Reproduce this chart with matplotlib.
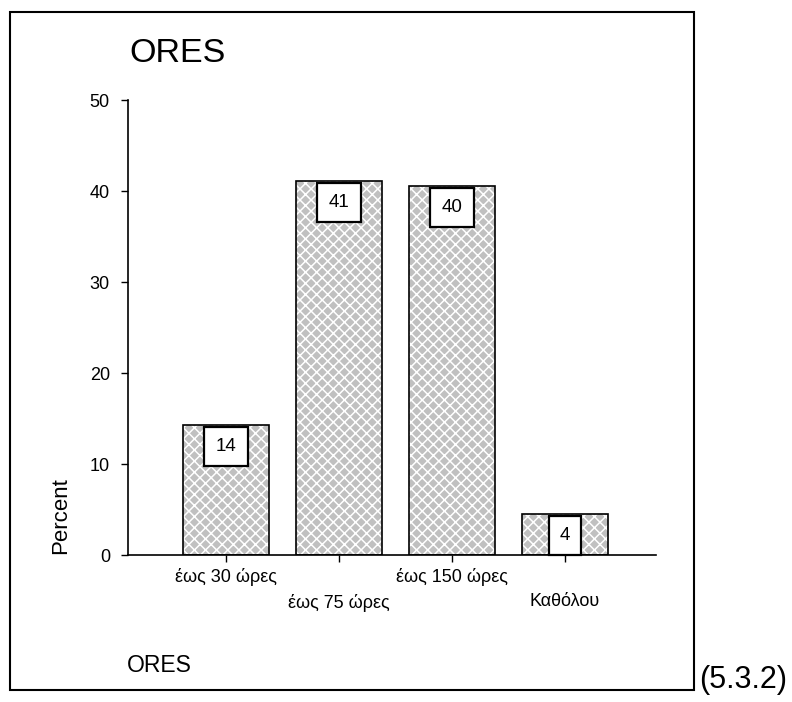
import matplotlib.pyplot as plt
import matplotlib.patches as mpatches
import numpy as np

plt.rcParams['font.family'] = ['Liberation Sans', 'DejaVu Sans']
plt.rcParams['hatch.linewidth'] = 1.1

categories = ['έως 30 ώρες', 'έως 75 ώρες', 'έως 150 ώρες', 'Καθόλου']
percent = [14.3, 41.1, 40.6, 4.5]
value_labels = ['14', '41', '40', '4']

fig = plt.figure(figsize=(7.92, 7.02), dpi=100)
ax = fig.add_axes([0.1616, 0.2094, 0.8283 - 0.1616, 0.8575 - 0.2094])

x = np.arange(len(categories))
# gray fill with white crosshatch, then black outline on top
ax.bar(x, percent, width=0.76, color='#c0c0c0', edgecolor='white', hatch='xxx', linewidth=0)
ax.bar(x, percent, width=0.76, facecolor='none', edgecolor='black', linewidth=1.2)

for xi, v, lab in zip(x, percent, value_labels):
    ax.annotate(lab, (xi, v), xytext=(0, -9.5), textcoords='offset points',
                ha='center', va='top', fontsize=13.5,
                bbox=dict(boxstyle='square,pad=0.6', facecolor='white', edgecolor='black', linewidth=1.6))

ax.set_xlim(-0.867, 3.805)
ax.set_ylim(0, 50)
ax.set_yticks([0, 10, 20, 30, 40, 50])
ax.set_xticks(x)
ax.set_xticklabels([c if i % 2 == 0 else '\n' + c for i, c in enumerate(categories)], fontsize=13)
for t in ax.get_xticklabels():
    t.set_linespacing(1.65)
ax.tick_params(axis='y', direction='out', length=5, width=1, pad=8, labelsize=13)
ax.tick_params(axis='x', direction='out', length=5, width=1, pad=4)
for s in ['top', 'right']:
    ax.spines[s].set_visible(False)
for s in ['left', 'bottom']:
    ax.spines[s].set_linewidth(1.2)

fig.text(129 / 792, 1 - 53 / 702, 'ORES', fontsize=24.5, ha='left', va='center')
fig.text(61 / 792, 1 - 516 / 702, 'Percent', fontsize=16, rotation=90, ha='center', va='center')
fig.text(127 / 792, 1 - 666 / 702, 'ORES', fontsize=16.5, ha='left', va='center')
fig.text(699 / 792, 1 - 680 / 702, '(5.3.2)', fontsize=22, ha='left', va='center')

fig.patches.append(mpatches.Rectangle((10 / 792, 1 - 690 / 702), 684 / 792, 678 / 702,
                                      transform=fig.transFigure, fill=False,
                                      edgecolor='black', linewidth=1.5))

fig.savefig('out.png', dpi=100)
